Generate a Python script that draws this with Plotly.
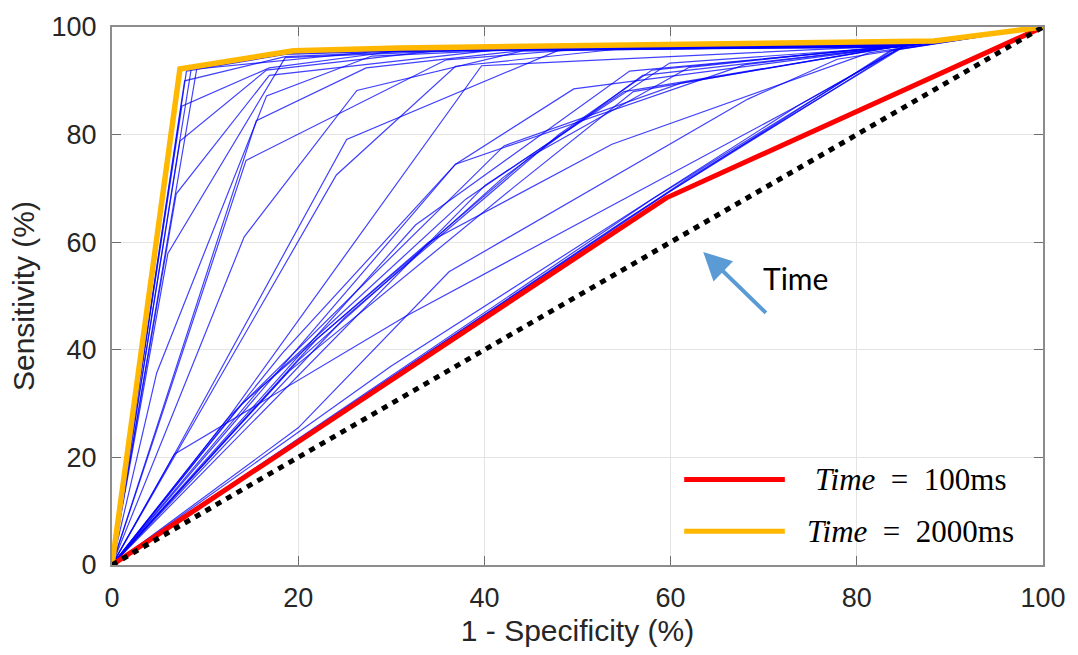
import plotly.graph_objects as go

# ROC curves of the classifier evaluated at increasing observation times
roc_fpr = [
    [0, 8.0, 18.6, 40.0, 85.5, 100],
    [0, 8.5, 19.0, 45.0, 85.0, 100],
    [0, 9.1, 28.0, 50.0, 84.5, 100],
    [0, 7.8, 18.6, 38.0, 86.0, 100],
    [0, 7.5, 16.9, 30.0, 85.0, 100],
    [0, 7.3, 16.6, 35.0, 84.0, 100],
    [0, 6.9, 16.9, 42.0, 85.0, 100],
    [0, 6.0, 18.6, 40.0, 84.5, 100],
    [0, 4.8, 16.6, 27.9, 46.0, 85.0, 100],
    [0, 15.5, 27.3, 45.0, 84.0, 100],
    [0, 14.4, 35.9, 52.0, 85.0, 100],
    [0, 14.2, 26.3, 44.0, 84.0, 100],
    [0, 6.7, 25.2, 48.0, 84.5, 100],
    [0, 24.1, 36.9, 55.0, 85.0, 100],
    [0, 12.5, 39.7, 85.0, 100],
    [0, 18.3, 36.9, 49.6, 85.0, 100],
    [0, 32.6, 55.6, 84.5, 100],
    [0, 12.5, 42.1, 61.2, 85.0, 100],
    [0, 6.7, 31.5, 73.7, 85.0, 100],
    [0, 40.1, 59.9, 85.1, 100],
    [0, 36.9, 68.0, 85.0, 100],
    [0, 20.0, 42.0, 57.0, 84.0, 100],
    [0, 16.0, 38.0, 55.0, 83.0, 100],
    [0, 22.0, 45.0, 62.0, 85.5, 100],
    [0, 14.0, 34.0, 53.7, 81.3, 100],
    [0, 25.0, 48.0, 58.0, 85.0, 100],
    [0, 19.0, 43.0, 56.0, 84.0, 100],
    [0, 60.0, 85.0, 100],
    [0, 58.0, 84.0, 100],
    [0, 62.0, 85.5, 100],
    [0, 55.0, 83.6, 100],
    [0, 20.0, 36.2, 68.3, 77.9, 100],
    [0, 30.0, 73.7, 85.0, 100],
]
roc_tpr = [
    [0, 91.8, 94.9, 96.0, 96.8, 100],
    [0, 92.1, 95.1, 96.2, 96.6, 100],
    [0, 92.2, 95.4, 96.2, 96.5, 100],
    [0, 90.0, 94.5, 95.9, 96.9, 100],
    [0, 85.3, 92.4, 95.4, 96.5, 100],
    [0, 78.8, 92.0, 95.6, 96.3, 100],
    [0, 69.0, 91.0, 95.9, 96.5, 100],
    [0, 57.9, 94.3, 95.8, 96.6, 100],
    [0, 35.7, 87.2, 94.6, 96.0, 96.5, 100],
    [0, 82.6, 92.4, 95.8, 96.2, 100],
    [0, 75.2, 93.9, 96.1, 96.8, 100],
    [0, 61.0, 88.2, 95.5, 96.5, 100],
    [0, 20.6, 79.1, 95.7, 96.3, 100],
    [0, 72.5, 92.7, 96.0, 96.7, 100],
    [0, 27.4, 92.8, 96.6, 100],
    [0, 39.4, 74.5, 88.5, 96.5, 100],
    [0, 63.2, 91.8, 96.4, 100],
    [0, 27.4, 77.9, 89.6, 96.6, 100],
    [0, 20.6, 46.2, 85.4, 96.4, 100],
    [0, 70.6, 93.3, 96.4, 100],
    [0, 74.5, 93.0, 96.5, 100],
    [0, 38.0, 72.0, 91.0, 96.3, 100],
    [0, 33.0, 68.0, 88.0, 96.0, 100],
    [0, 42.0, 76.0, 92.5, 96.8, 100],
    [0, 30.0, 60.0, 78.2, 95.2, 100],
    [0, 46.0, 80.0, 92.0, 96.6, 100],
    [0, 36.0, 70.0, 88.0, 96.4, 100],
    [0, 69.5, 96.5, 100],
    [0, 68.0, 95.8, 100],
    [0, 72.0, 96.8, 100],
    [0, 64.0, 95.6, 100],
    [0, 25.5, 54.5, 86.6, 94.0, 100],
    [0, 37.0, 85.4, 96.4, 100],
]

# Earliest (100 ms) and latest (2000 ms) curves
fpr_100ms = [0, 59.5, 100]
tpr_100ms = [0, 68.2, 100]
fpr_2000ms = [0, 7.3, 19.5, 30.8, 88.3, 100]
tpr_2000ms = [0, 92.2, 95.6, 96.1, 97.4, 100]

# Chance line
chance = [0, 100]

axis_ticks = [0, 20, 40, 60, 80, 100]
legend_labels = ["<i>Time</i>&nbsp;&nbsp;=&nbsp;&nbsp;100ms",
                 "<i>Time</i>&nbsp;&nbsp;=&nbsp;&nbsp;2000ms"]

RED = "#FF0000"
GOLD = "#FFB700"

fig = go.Figure()

for fx, fy in zip(roc_fpr, roc_tpr):
    fig.add_trace(go.Scatter(
        x=fx, y=fy, mode="lines",
        line=dict(color="rgba(0,0,255,0.75)", width=1.2),
        showlegend=False, hoverinfo="skip",
    ))

fig.add_trace(go.Scatter(x=fpr_100ms, y=tpr_100ms, mode="lines",
                         line=dict(color=RED, width=5), showlegend=False))
fig.add_trace(go.Scatter(x=fpr_2000ms, y=tpr_2000ms, mode="lines",
                         line=dict(color=GOLD, width=5.5), showlegend=False))
fig.add_trace(go.Scatter(x=chance, y=chance, mode="lines",
                         line=dict(color="black", width=5, dash="6px,6px"),
                         showlegend=False))

axis_style = dict(
    range=[0, 100],
    tickvals=axis_ticks,
    ticks="inside",
    ticklen=9,
    tickwidth=1.3,
    tickcolor="#6e6e6e",
    showline=True,
    linecolor="#8c8c8c",
    linewidth=2,
    mirror="ticks",
    showgrid=True,
    gridcolor="#e4e4e4",
    gridwidth=1,
    zeroline=False,
    tickfont=dict(family="Liberation Sans, Arial, sans-serif", size=27, color="#262626"),
    title_font=dict(family="Liberation Sans, Arial, sans-serif", size=30, color="#262626"),
)

fig.update_xaxes(**axis_style, title_text="1 - Specificity (%)",
                 ticklabelstandoff=8, title_standoff=8)
fig.update_yaxes(**axis_style, title_text="Sensitivity (%)",
                 ticklabelstandoff=8, title_standoff=8)

# Legend drawn as sample lines plus labels in the lower-right corner
legend_rows = [(0.159, RED), (0.0628, GOLD)]
for (yp, col), label in zip(legend_rows, legend_labels):
    fig.add_shape(type="line", xref="paper", yref="paper",
                  x0=0.6146, x1=0.7227, y0=yp, y1=yp,
                  line=dict(color=col, width=5))
    fig.add_annotation(xref="paper", yref="paper", x=0.8575, y=yp,
                       text=label, showarrow=False,
                       xanchor="center", yanchor="middle",
                       font=dict(family="Liberation Serif, Times New Roman, serif",
                                 size=31, color="black"))

# Arrow showing the direction of increasing time
fig.add_annotation(x=63.5, y=58.2, ax=70.4, ay=46.6, xref="x", yref="y",
                   axref="x", ayref="y", text="", showarrow=True,
                   arrowhead=2, arrowsize=1.4, arrowwidth=4,
                   arrowcolor="#5B9BD5")
fig.add_annotation(x=73.4, y=53.4, xref="x", yref="y", text="Time",
                   showarrow=False, xanchor="center", yanchor="middle",
                   font=dict(family="Lato, Open Sans, sans-serif", size=30, color="black"))

fig.update_layout(
    width=1078, height=655,
    margin=dict(l=112, r=32, t=24, b=90),
    plot_bgcolor="white",
    paper_bgcolor="white",
    showlegend=False,
)

fig.write_html("out.html")
